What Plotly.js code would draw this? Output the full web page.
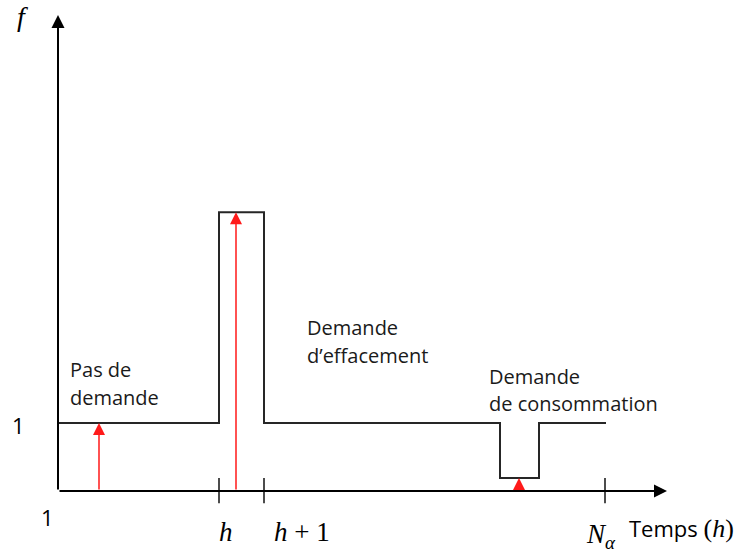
<!DOCTYPE html>
<html>
<head>
<meta charset="utf-8">
<script src="https://cdn.plot.ly/plotly-3.0.1.min.js"></script>
<style>html,body{margin:0;padding:0;background:#fff;}#chart{width:739px;height:552px;}</style>
</head>
<body>
<div id="chart"></div>
<script>
// Step profile of f over time (x in arbitrary time units, y in units of f)
const stepX = [0, 16.1, 20.6, 44.2, 48.1, 54.8];
const stepY = [1, 4.1, 1, 0.19, 1, 1];
// Red demand arrows: position and height
const arrowX = [4.1, 17.8, 46.1];
const arrowTop = [1, 4.1, 0.19];
// Axis tick marks on the time axis
const tickX = [16.1, 20.6, 54.7];
const tickLabels = ["<i>h</i>", "<i>h</i> + 1", "<i>N</i><sub><i>α</i></sub>"];
const axisXEnd = 60.9;
const axisYEnd = 7.0;
// Region captions (one entry per line)
const captionLines = ["Pas de", "demande", "Demande", "d’effacement", "Demande", "de consommation"];

const serif = "Liberation Serif, DejaVu Serif, serif";
const sans = "Open Sans, Noto Sans, sans-serif";

const traces = [];
traces.push({
  x: stepX, y: stepY, type: "scatter", mode: "lines",
  line: {shape: "hv", color: "#262626", width: 2},
  hoverinfo: "skip", showlegend: false
});
// ticks
const tx = [], ty = [];
tickX.forEach(v => { tx.push(v, v, null); ty.push(0.19, -0.18, null); });
traces.push({x: tx, y: ty, type: "scatter", mode: "lines",
  line: {color: "#111111", width: 1.5}, hoverinfo: "skip", showlegend: false});

const ann = [];
// axes with arrowheads
ann.push({x: axisXEnd, y: 0, ax: 0, ay: 0, xref: "x", yref: "y", axref: "x", ayref: "y",
  text: "", showarrow: true, arrowhead: 2, arrowsize: 1.3, arrowwidth: 2, arrowcolor: "#000"});
ann.push({x: 0, y: axisYEnd, ax: 0, ay: 0, xref: "x", yref: "y", axref: "x", ayref: "y",
  text: "", showarrow: true, arrowhead: 2, arrowsize: 1.3, arrowwidth: 2, arrowcolor: "#000"});
// red arrows
arrowX.forEach((v, i) => {
  ann.push({x: v, y: arrowTop[i], ax: v, ay: 0, xref: "x", yref: "y", axref: "x", ayref: "y",
    text: "", showarrow: true, arrowhead: 2, arrowsize: 1.6, arrowwidth: 1.5, arrowcolor: "#ff1a1a"});
});
// tick labels
const tickLabelX = [16.8, 24.4, 54.3];
const tickLabelY = [-0.6, -0.6, -0.66];
tickLabels.forEach((t, i) => {
  ann.push({x: tickLabelX[i], y: tickLabelY[i], xref: "x", yref: "y", text: t, showarrow: false,
    font: {family: serif, size: 27, color: "#000"}, xanchor: "center", yanchor: "middle"});
});
// other labels
ann.push({x: -3.6, y: 6.98, xref: "x", yref: "y", text: "<i>f</i>", showarrow: false,
  font: {family: serif, size: 28, color: "#000"}});
ann.push({x: -4.0, y: 0.97, xref: "x", yref: "y", text: "1", showarrow: false,
  font: {family: sans, size: 22, color: "#000"}});
ann.push({x: -1.1, y: -0.38, xref: "x", yref: "y", text: "1", showarrow: false,
  font: {family: sans, size: 22, color: "#000"}});
ann.push({x: 56.9, y: -0.55, xref: "x", yref: "y", xanchor: "left",
  text: "Temps <span style=\"font-family:" + serif + ";font-size:26px\">(<i>h</i>)</span>", showarrow: false,
  font: {family: sans, size: 22, color: "#000"}});
// captions
const capX = [1.0, 1.0, 24.7, 24.7, 42.9, 42.9];
const capY = [1.78, 1.37, 2.40, 2.0, 1.69, 1.28];
captionLines.forEach((t, i) => {
  ann.push({x: capX[i], y: capY[i], xref: "x", yref: "y", xanchor: "left", yanchor: "middle",
    text: t, showarrow: false, font: {family: sans, size: 20, color: "#1a1a1a"}});
});

const layout = {
  width: 739, height: 552,
  margin: {l: 0, r: 0, t: 0, b: 0},
  paper_bgcolor: "#fff", plot_bgcolor: "#fff",
  xaxis: {range: [-5.8, 68.1], visible: false, fixedrange: true},
  yaxis: {range: [-0.897, 7.221], visible: false, fixedrange: true},
  annotations: ann,
  showlegend: false
};
Plotly.newPlot("chart", traces, layout, {staticPlot: true});
</script>
</body>
</html>
